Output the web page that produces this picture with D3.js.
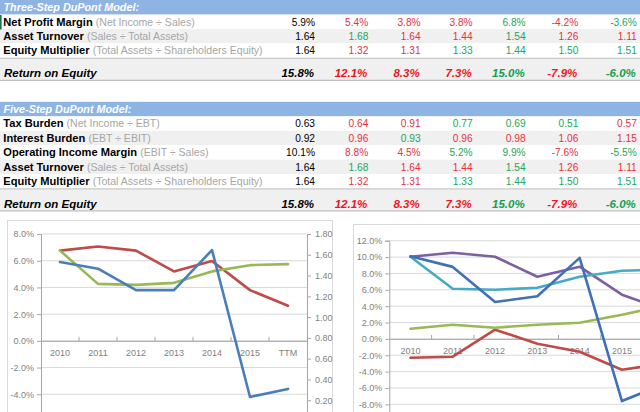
<!DOCTYPE html>
<html><head><meta charset="utf-8">
<script src="https://cdn.jsdelivr.net/npm/d3@7"></script>
<style>body{margin:0;background:#fff}svg{display:block}</style>
</head><body>
<svg id="c" width="640" height="412"></svg>
<script>
// ---------- data ----------
const years = ["2010","2011","2012","2013","2014","2015","TTM"];
const netProfitMargin = [5.9,5.4,3.8,3.8,6.8,-4.2,-3.6];
const assetTurnover = [1.64,1.68,1.64,1.44,1.54,1.26,1.11];
const equityMultiplier = [1.64,1.32,1.31,1.33,1.44,1.50,1.51];
const returnOnEquity = [15.8,12.1,8.3,7.3,15.0,-7.9,-6.0];
const taxBurden = [0.63,0.64,0.91,0.77,0.69,0.51,0.57];
const interestBurden = [0.92,0.96,0.93,0.96,0.98,1.06,1.15];
const operatingMargin = [10.1,8.8,4.5,5.2,9.9,-7.6,-5.5];
const threeStepTicksPct = [-6,-4,-2,0,2,4,6,8];
const ratioTicks = [0.2,0.4,0.6,0.8,1.0,1.2,1.4,1.6,1.8];
const fiveStepTicksPct = [-10,-8,-6,-4,-2,0,2,4,6,8,10,12];

const threeRows = [
  {name:"Net Profit Margin", note:"(Net Income ÷ Sales)", vals:netProfitMargin, pct:true, higherBetter:true},
  {name:"Asset Turnover", note:"(Sales ÷ Total Assets)", vals:assetTurnover, pct:false, higherBetter:true},
  {name:"Equity Multiplier", note:"(Total Assets ÷ Shareholders Equity)", vals:equityMultiplier, pct:false, higherBetter:true}
];
const fiveRows = [
  {name:"Tax Burden", note:"(Net Income ÷ EBT)", vals:taxBurden, pct:false, higherBetter:false},
  {name:"Interest Burden", note:"(EBT ÷ EBIT)", vals:interestBurden, pct:false, higherBetter:false},
  {name:"Operating Income Margin", note:"(EBIT ÷ Sales)", vals:operatingMargin, pct:true, higherBetter:true},
  {name:"Asset Turnover", note:"(Sales ÷ Total Assets)", vals:assetTurnover, pct:false, higherBetter:true},
  {name:"Equity Multiplier", note:"(Total Assets ÷ Shareholders Equity)", vals:equityMultiplier, pct:false, higherBetter:true}
];

// ---------- setup ----------
const W = 640, H = 412;
const svg = d3.select("#c");
const FONT = "'Liberation Sans', Arial, sans-serif";
const RED = "#e8323c", GREEN = "#23a55a";
const colX = d3.scaleOrdinal(years, [315,368.3,420.7,472.7,525.7,578.3,636.8]);
const loc = d3.formatLocale({decimal:".", thousands:",", grouping:[3], currency:["$",""], minus:"-"});
const f1 = loc.format(".1f"), f2 = loc.format(".2f");
const fmtPct = d => f1(d) + "%";

function cellColor(row, i, vals) {
  if (i === 0) return "#000";
  const d = vals[i] - vals[i-1];
  const better = row.higherBetter ? d > 0 : d < 0;
  return better ? GREEN : RED;
}

function drawBlock(top, title, rows) {
  const g = svg.append("g");
  const headerH = 14.6, rowH = 14.4;
  g.append("rect").attr("x",0).attr("y",top).attr("width",W).attr("height",headerH).attr("fill","#8db4e2");
  g.append("text").attr("x",3.5).attr("y",top+11.2).attr("fill","#fff")
    .attr("font-family",FONT).attr("font-size",10.8).attr("font-weight","bold").attr("font-style","italic")
    .text(title);
  let y = top + headerH;
  rows.forEach((row, r) => {
    g.append("rect").attr("x",0).attr("y",y).attr("width",W).attr("height",rowH)
      .attr("fill", r % 2 ? "#f0f0f0" : "#fff");
    const t = g.append("text").attr("x",3.3).attr("y",y+11).attr("font-family",FONT);
    t.append("tspan").attr("font-size",11.1).attr("font-weight","bold").attr("fill","#000").text(row.name + " ");
    t.append("tspan").attr("font-size",10.55).attr("fill","#a6a6a6").text(row.note);
    g.selectAll(null).data(row.vals).join("text")
      .attr("x",(d,i)=>colX(years[i])).attr("y",y+11).attr("text-anchor","end")
      .attr("font-family",FONT).attr("font-size",10.2)
      .attr("fill",(d,i)=>cellColor(row,i,row.vals))
      .text(d => row.pct ? fmtPct(d) : f2(d));
    y += rowH;
  });
  g.append("rect").attr("x",0).attr("y",y+0.5).attr("width",W).attr("height",22).attr("fill","#f0f0f0");
  g.append("line").attr("x1",0).attr("x2",W).attr("y1",y+0.5).attr("y2",y+0.5).attr("stroke","#c8c8c8").attr("stroke-width",1.2);
  g.append("line").attr("x1",0).attr("x2",W).attr("y1",y+22.5).attr("y2",y+22.5).attr("stroke","#c0c0c0").attr("stroke-width",1.2);
  const roeRow = {higherBetter:true};
  g.append("text").attr("x",4).attr("y",y+19.5).attr("font-family",FONT).attr("font-size",11.5)
    .attr("font-weight","bold").attr("font-style","italic").attr("fill","#000").text("Return on Equity");
  g.selectAll(null).data(returnOnEquity).join("text")
    .attr("x",(d,i)=>colX(years[i])-1).attr("y",y+19.5).attr("text-anchor","end")
    .attr("font-family",FONT).attr("font-size",11.5).attr("font-weight","bold").attr("font-style","italic")
    .attr("fill",(d,i)=>i===0?"#000":(cellColor(roeRow,i,returnOnEquity)===GREEN?"#10a050":"#f0141e"))
    .text(d => fmtPct(d));
  return y + 23;
}

drawBlock(0, "Three-Step DuPont Model:", threeRows);
drawBlock(101.8, "Five-Step DuPont Model:", fiveRows);
svg.append("rect").attr("x",0).attr("y",15).attr("width",1.6).attr("height",14.4).attr("fill","#217346");

// ---------- charts ----------
function drawChart(opt) {
  const g = svg.append("g");
  g.append("rect").attr("x",opt.box[0]).attr("y",opt.box[1]).attr("width",opt.box[2]).attr("height",300)
    .attr("fill","#fff").attr("stroke","#d9d9d9");
  const [x0,x1] = opt.xr, [yb,yt] = opt.yr;
  const x = d3.scaleBand(years, [x0,x1]);
  const yL = d3.scaleLinear(opt.pctDomain, [yb,yt]);
  const yR = d3.scaleLinear([0,1.8], [yb,yt]);
  g.selectAll(null).data(opt.pctTicks).join("line")
    .attr("x1",x0).attr("x2",x1).attr("y1",d=>yL(d)).attr("y2",d=>yL(d))
    .attr("stroke","#d9d9d9").attr("stroke-width",1);
  const la = g.append("g").attr("transform",`translate(${x0},0)`)
    .call(d3.axisLeft(yL).tickValues(opt.pctTicks).tickSize(4).tickPadding(3).tickFormat(fmtPct));
  const ra = g.append("g").attr("transform",`translate(${x1},0)`)
    .call(d3.axisRight(yR).tickValues([0].concat(ratioTicks)).tickSize(4).tickPadding(4).tickFormat(f2));
  [la,ra].forEach(a => {
    a.select(".domain").attr("stroke","#a6a6a6");
    a.selectAll(".tick line").attr("stroke","#a6a6a6");
    a.selectAll(".tick text").attr("fill","#7f7f7f").attr("font-family",FONT).attr("font-size",9);
  });
  // labels that fall outside the photographed window are not drawn
  la.selectAll(".tick").filter(d => yL(d) > H - 5).select("text").remove();
  ra.selectAll(".tick").filter(d => yR(d) > H - 5 || x1 + 8 > W - 10).select("text").remove();
  const y0 = yL(0);
  const xa = g.append("g").attr("transform",`translate(0,${y0})`)
    .call(d3.axisBottom(x).tickSize(0).tickPadding(9));
  xa.select(".domain").attr("stroke","#a6a6a6");
  xa.selectAll(".tick text").attr("fill","#7f7f7f").attr("font-family",FONT).attr("font-size",9);
  xa.selectAll(".tick").filter(d => x(d) + x.bandwidth()/2 + 9 > W).select("text").remove();
  g.selectAll(null).data(years.slice(1)).join("line")
    .attr("x1",d=>x(d)).attr("x2",d=>x(d)).attr("y1",y0-4).attr("y2",y0)
    .attr("stroke","#a6a6a6");
  opt.series.forEach(s => {
    const sc = s.axis === "pct" ? yL : yR;
    g.append("path").datum(s.vals)
      .attr("fill","none").attr("stroke",s.color).attr("stroke-width",2.6)
      .attr("stroke-linejoin","round").attr("stroke-linecap","round")
      .attr("d", d3.line().x((d,i)=>x(years[i])+x.bandwidth()/2).y(d=>sc(d)));
  });
}

drawChart({
  box:[7.5,220.5,325], xr:[41,307], yr:[421,234], pctDomain:[-6,8], pctTicks:threeStepTicksPct,
  series:[
    {vals:assetTurnover, axis:"ratio", color:"#be4b48"},
    {vals:equityMultiplier, axis:"ratio", color:"#98b954"},
    {vals:netProfitMargin, axis:"pct", color:"#4a7ebb"}
  ]
});
drawChart({
  box:[353.5,224.5,330], xr:[389.3,685.4], yr:[420.7,240.7], pctDomain:[-10,12], pctTicks:fiveStepTicksPct,
  series:[
    {vals:taxBurden, axis:"ratio", color:"#be4b48"},
    {vals:interestBurden, axis:"ratio", color:"#98b954"},
    {vals:assetTurnover, axis:"ratio", color:"#7d60a0"},
    {vals:equityMultiplier, axis:"ratio", color:"#46aac5"},
    {vals:operatingMargin, axis:"pct", color:"#3f70b8"}
  ]
});
</script>
</body></html>
